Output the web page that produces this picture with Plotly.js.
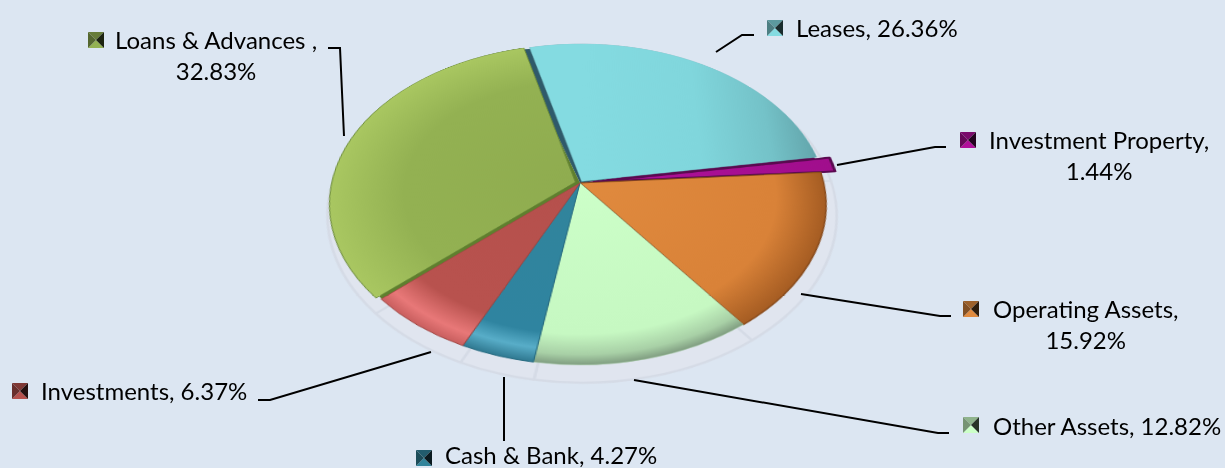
<!DOCTYPE html>
<html><head><meta charset="utf-8">
<script src="https://cdn.plot.ly/plotly-3.0.1.min.js"></script>
<style>
html,body{margin:0;padding:0;background:#dce6f2;overflow:hidden}
#stage{position:relative;width:1225px;height:468px;overflow:hidden;background:#dce6f2}
#pie{position:absolute;left:0;top:-167px;width:1225px;height:700px;transform-origin:580px 350px;transform:perspective(1356px) rotateX(49.9deg)}
#top{position:absolute;left:0;top:0;width:1225px;height:468px}
</style></head><body>
<div id="stage"><div id="pie"></div><div id="top"></div></div>
<script>
const categories=['Leases','Investment Property','Operating Assets','Other Assets','Cash & Bank','Investments','Loans & Advances'];
const values=[26.36,1.44,15.92,12.82,4.27,6.37,32.83];
const baseColors=['#84dbe1','#b0109a','#e08a3e','#ccffc8','#31849b','#b5504c','#93b152'];
const edgeColors=['#6fb4ba','#5a0a50','#8a4c1c','#a8d0a6','#256a80','#a04844','#6a8a38'];
const edgeWidths=[0.5,3,1.5,0.5,1,1,1];
const underColors=['#2f5a6a','#5a0a50','#6e3d15','#6f8f70','#1f5568','#7a3330','#5f7f2e'];
const pulls=[0.012,0.06,0,0,0,0,0.02];
const rimStops=[
 [[0,'#84dbe1'],[.5,'#80d6dc'],[.8,'#74c2c8'],[1,'#62a4aa']],
 [[0,'#b0109a'],[1,'#a00e8c']],
 [[0,'#e08a3e'],[.8,'#d98238'],[1,'#a55c22']],
 [[0,'#ccffc8'],[.85,'#c6f8c2'],[.95,'#a8d0a6'],[1,'#7f9c80']],
 [[0,'#31849b'],[.85,'#2f84a0'],[.93,'#58adc8'],[1,'#2f7890']],
 [[0,'#b5504c'],[.82,'#b8524e'],[.94,'#e87878'],[1,'#c85e5e']],
 [[0,'#8fac4f'],[.7,'#93b152'],[1,'#a9c761']]
];
const labelLines=[['Leases, 26.36%'],['Investment Property,','1.44%'],['Operating Assets,','15.92%'],['Other Assets, 12.82%'],['Cash & Bank, 4.27%'],['Investments, 6.37%'],['Loans & Advances ,','32.83%']];
const labelX=[795,988,992,992,444,40,114];
const labelY=[27,155,324,425,454,390,55];
const swatchX=[767,960,963,963,416,12,88];
const swatchY=[20,132,301,417,450,383,32];
const leaderX=[[716,742,754],[837,935,946],[801,940,951],[634,938,949],[504,504],[431,270,258],[328,340,344]];
const leaderY=[[52,35,35],[165,147,147],[294,316,316],[380,433,433],[377,441],[352,400,400],[48,48,136]];
const rotationDeg=-14;

const W=1225,H=700,CX=580,CY=350;
function dom(cx,cy,r){return {x:[(cx-r)/W,(cx+r)/W],y:[1-(cy+r)/H,1-(cy-r)/H]};}
function pie(d,colors,lineColors,lw,pull,rot){return {type:'pie',values:values,labels:categories,sort:false,direction:'clockwise',rotation:rot,
 domain:d,textinfo:'none',hoverinfo:'skip',showlegend:false,pull:pull,
 marker:{colors:colors,line:{color:lineColors,width:lw}}};}
const shadowFill=categories.map(()=>'#e0e5ef');
const shadowLine=categories.map(()=>'#d5dbe6');
const pieData=[
 pie(dom(CX+2,CY+14,250),shadowFill,shadowLine,2.5,0,rotationDeg),
 pie(dom(CX,CY,243),underColors,underColors,0,0,rotationDeg-3),
 pie(dom(CX,CY,258.3),baseColors,edgeColors,edgeWidths,pulls,rotationDeg)
];
const pieLayout={width:W,height:H,margin:{l:0,r:0,t:0,b:0},paper_bgcolor:'rgba(0,0,0,0)',plot_bgcolor:'rgba(0,0,0,0)'};

function shade(c,f){const n=parseInt(c.slice(1),16);const ch=[n>>16,(n>>8)&255,n&255].map(v=>Math.round(v*f));return 'rgb('+ch.join(',')+')';}
const shapes=[];
categories.forEach((n,i)=>{
 const x=swatchX[i],y=swatchY[i],s=16,m=8,c=baseColors[i];
 const tri=(p,col)=>shapes.push({type:'path',xref:'x',yref:'y',path:p,fillcolor:col,line:{width:0}});
 tri(`M${x},${y}L${x+s},${y}L${x+m},${y+m}Z`,shade(c,.7));
 tri(`M${x},${y+s}L${x+s},${y+s}L${x+m},${y+m}Z`,c);
 tri(`M${x},${y}L${x},${y+s}L${x+m},${y+m}Z`,shade(c,.58));
 tri(`M${x+s},${y}L${x+s},${y+s}L${x+m},${y+m}Z`,shade(c,.2));
});
const lineTraces=categories.map((n,i)=>({type:'scatter',mode:'lines',x:leaderX[i],y:leaderY[i],line:{color:'#000',width:2},hoverinfo:'skip',showlegend:false}));
const annotations=categories.map((n,i)=>({xref:'x',yref:'y',x:labelX[i],y:labelY[i],xanchor:'left',yanchor:'middle',showarrow:false,align:'center',
 text:labelLines[i].join('<br>'),font:{family:'Lato, Carlito, sans-serif',size:24,color:'#000'},borderpad:0}));
const topLayout={width:1225,height:468,margin:{l:0,r:0,t:0,b:0},paper_bgcolor:'rgba(0,0,0,0)',plot_bgcolor:'rgba(0,0,0,0)',
 xaxis:{range:[0,1225],visible:false,fixedrange:true},yaxis:{range:[468,0],visible:false,fixedrange:true},shapes:shapes,annotations:annotations,showlegend:false};

Plotly.newPlot('pie',pieData,pieLayout,{displayModeBar:false,staticPlot:true}).then(gd=>{
 const svg=gd.querySelector('.main-svg');
 const NS='http://www.w3.org/2000/svg';
 const defs=document.createElementNS(NS,'defs');svg.insertBefore(defs,svg.firstChild);
 const tr=gd.querySelectorAll('.pielayer .trace');
 const cd=gd.calcdata[2];
 tr[2].querySelectorAll('.slice path.surface').forEach((p,k)=>{
  const pt=p.__data__||cd[k];const i=pt.i!==undefined?pt.i:k;
  let g;
  if(i===0){
   g=document.createElementNS(NS,'linearGradient');
   g.setAttribute('x1',pt.cxFinal);g.setAttribute('x2',pt.cxFinal+cd[0].r);g.setAttribute('y1',0);g.setAttribute('y2',0);
  }else{
   g=document.createElementNS(NS,'radialGradient');
   g.setAttribute('cx',pt.cxFinal);g.setAttribute('cy',pt.cyFinal);g.setAttribute('r',cd[0].r);
  }
  g.setAttribute('id','rim'+i);g.setAttribute('gradientUnits','userSpaceOnUse');
  rimStops[i].forEach(s=>{const st=document.createElementNS(NS,'stop');st.setAttribute('offset',s[0]);st.setAttribute('stop-color',s[1]);g.appendChild(st);});
  defs.appendChild(g);
  p.style.fill='url(#rim'+i+')';
 });
});
Plotly.newPlot('top',lineTraces,topLayout,{displayModeBar:false,staticPlot:true});
</script>
</body></html>
